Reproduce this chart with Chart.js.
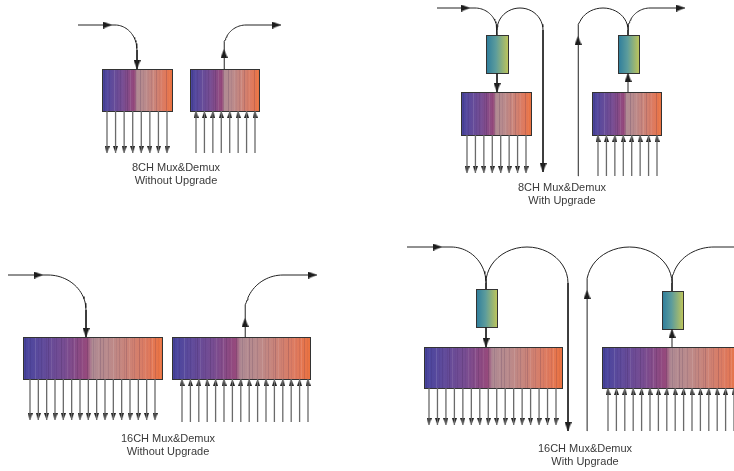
<!DOCTYPE html>
<html><head><meta charset="utf-8">
<script src="https://cdn.jsdelivr.net/npm/chart.js@4"></script>
<style>html,body{margin:0;padding:0;background:#fff;overflow:hidden}#wrap{position:relative;width:734px;height:471px}</style>
</head><body><div id="wrap"><canvas id="c"></canvas></div>
<script>
// ---- data ----
const panelNames = ["8CH Mux&Demux", "8CH Mux&Demux", "16CH Mux&Demux", "16CH Mux&Demux"];
const panelSubtitles = ["Without Upgrade", "With Upgrade", "Without Upgrade", "With Upgrade"];
const channelCounts = [8, 8, 16, 16];
const hasUpgrade = [false, true, false, true];

// ---- layout (diagram geometry in scale units) ----
const layout = [
  { text: [176, 168, 180.5],
    blocks: [[102, 172, 69, 111], [190, 259, 69, 111]],
    filters: [],
    chans: [[107, 167, 111, 153, 'd'], [196, 255, 153, 111, 'u']],
    paths: [
      [['M', 78, 25], ['L', 115, 25], ['A', 115, 50, 22, 25, -90, 0], ['L', 137, 69]],
      [['M', 224, 69], ['L', 224, 47], ['A', 246, 47, 22, 22, 180, 270], ['L', 281, 25]]
    ],
    arrows: [[112, 25, 'r'], [137, 69, 'd'], [224, 49, 'u'], [281, 25, 'r']] },
  { text: [562, 188, 201],
    blocks: [[461, 531, 92, 135], [592, 661, 92, 135]],
    filters: [[486, 508, 35, 73], [618, 639, 35, 73]],
    chans: [[467, 526, 135, 173, 'd'], [598, 657, 176, 135, 'u']],
    paths: [
      [['M', 437, 8], ['L', 475, 8], ['A', 475, 30, 22, 22, -90, 0], ['L', 497, 35]],
      [['M', 497, 30], ['A', 520, 30, 23, 22, 180, 360], ['L', 543, 172]],
      [['M', 497, 73], ['L', 497, 92]],
      [['M', 578, 176], ['L', 578, 30], ['A', 603, 30, 25, 22, 180, 360], ['L', 628, 35]],
      [['M', 628, 92], ['L', 628, 73]],
      [['M', 628, 30], ['A', 650, 30, 22, 22, 180, 270], ['L', 685, 8]]
    ],
    arrows: [[470, 8, 'r'], [543, 172, 'd'], [497, 92, 'd'], [578, 36, 'u'], [628, 73, 'u'], [685, 8, 'r']] },
  { text: [168, 439, 452],
    blocks: [[23, 162, 337, 379], [172, 310, 337, 379]],
    filters: [],
    chans: [[30, 155, 379, 420, 'd'], [182, 308, 422, 379, 'u']],
    paths: [
      [['M', 8, 275], ['L', 48, 275], ['A', 48, 310, 38, 35, -90, 0], ['L', 86, 337]],
      [['M', 245, 337], ['L', 245, 312], ['A', 283, 312, 38, 37, 180, 270], ['L', 317, 275]]
    ],
    arrows: [[43, 275, 'r'], [86, 337, 'd'], [245, 318, 'u'], [317, 275, 'r']] },
  { text: [585, 449, 462],
    blocks: [[424, 562, 347, 388], [602, 740, 347, 388]],
    filters: [[476, 497, 289, 327], [662, 683, 291, 329]],
    chans: [[429, 556, 388, 425, 'd'], [608, 734, 431, 388, 'u']],
    paths: [
      [['M', 407, 247], ['L', 451, 247], ['A', 451, 283, 35, 36, -90, 0], ['L', 486, 289]],
      [['M', 486, 283], ['A', 527, 283, 41, 36, 180, 360], ['L', 568, 431]],
      [['M', 486, 327], ['L', 486, 347]],
      [['M', 587, 431], ['L', 587, 283], ['A', 629.5, 283, 42.5, 36, 180, 360], ['L', 672, 291]],
      [['M', 672, 347], ['L', 672, 329]],
      [['M', 672, 283], ['A', 714, 283, 42, 36, 180, 270], ['L', 745, 247]]
    ],
    arrows: [[442, 247, 'r'], [568, 431, 'd'], [486, 347, 'd'], [587, 290, 'u'], [672, 329, 'u']] }
];

// ---- build datasets ----
function pathPoints(cmds) {
  const pts = [];
  cmds.forEach(c => {
    if (c[0] === 'M' || c[0] === 'L') pts.push({x: c[1], y: c[2]});
    else {
      const [, cx, cy, rx, ry, a0, a1] = c;
      const n = 24;
      for (let i = 0; i <= n; i++) {
        const a = (a0 + (a1 - a0) * i / n) * Math.PI / 180;
        pts.push({x: cx + rx * Math.cos(a), y: cy + ry * Math.sin(a)});
      }
    }
  });
  return pts;
}
const rotOf = {u: 0, r: 90, d: 180, l: 270};
const dirVec = {u: [0, -1], d: [0, 1], r: [1, 0], l: [-1, 0]};
function makeArrow(w, h, color) {
  const cv = document.createElement('canvas');
  cv.width = w; cv.height = h;
  const g = cv.getContext('2d');
  g.fillStyle = color;
  g.beginPath(); g.moveTo(w / 2, 0); g.lineTo(w, h); g.lineTo(0, h); g.closePath(); g.fill();
  return cv;
}
const bigArrow = makeArrow(7, 9, '#1a1a1a');
const smallArrow = makeArrow(5, 7, '#1a1a1a');

const connectorData = [], channelData = [], bigHeads = [], smallHeads = [];
function head(list, tx, ty, dir, len) {
  const v = dirVec[dir];
  list.push({x: tx - v[0] * len / 2, y: ty - v[1] * len / 2, rot: rotOf[dir]});
}
layout.forEach((p, pi) => {
  p.paths.forEach(cmds => { connectorData.push(...pathPoints(cmds)); connectorData.push({x: null, y: null}); });
  p.arrows.forEach(a => head(bigHeads, a[0], a[1], a[2], 9));
  const n = channelCounts[pi];
  p.chans.forEach(ch => {
    const [first, last, from, to, dir] = ch;
    for (let i = 0; i < n; i++) {
      const x = first + (last - first) * i / (n - 1);
      channelData.push({x, y: from}, {x, y: to}, {x: null, y: null});
      head(smallHeads, x, to, dir, 7);
    }
  });
});

// ---- plugin: blocks, filters, labels ----
const bigStops = [[0, '#45449e'], [0.12, '#5c4a9c'], [0.3, '#784d92'], [0.46, '#96497c'], [0.5, '#b08b93'], [0.62, '#ba8a8b'], [0.76, '#cc8377'], [0.9, '#df7a5e'], [1, '#eb7240']];
const stripeAlpha = [0.16, 0.05, 0.11, 0.0, 0.2, 0.07, 0.13, 0.03, 0.09, 0.18];
const diagramPlugin = {
  id: 'diagram',
  beforeDatasetsDraw(chart) {
    const {ctx, scales: {x, y}} = chart;
    ctx.save();
    layout.forEach(p => {
      p.blocks.forEach(b => {
        const X0 = x.getPixelForValue(b[0]), X1 = x.getPixelForValue(b[1]);
        const Y0 = y.getPixelForValue(b[2]), Y1 = y.getPixelForValue(b[3]);
        const g = ctx.createLinearGradient(X0, 0, X1, 0);
        bigStops.forEach(s => g.addColorStop(s[0], s[1]));
        ctx.fillStyle = g;
        ctx.fillRect(X0, Y0, X1 - X0, Y1 - Y0);
        const w = X1 - X0;
        let k = 0;
        for (let sx = X0 + 2; sx < X1 - 1; sx += 2.6, k++) {
          const a = stripeAlpha[k % stripeAlpha.length];
          if (!a) continue;
          ctx.fillStyle = (k % 3 === 1) ? `rgba(255,255,255,${a * 0.6})` : `rgba(40,15,60,${a * 0.85})`;
          ctx.fillRect(Math.round(sx), Y0, 1, Y1 - Y0);
        }
        ctx.strokeStyle = '#333';
        ctx.lineWidth = 1;
        ctx.strokeRect(Math.round(X0) + 0.5, Math.round(Y0) + 0.5, Math.round(w), Math.round(Y1 - Y0));
      });
      p.filters.forEach(b => {
        const X0 = x.getPixelForValue(b[0]), X1 = x.getPixelForValue(b[1]);
        const Y0 = y.getPixelForValue(b[2]), Y1 = y.getPixelForValue(b[3]);
        const g = ctx.createLinearGradient(X0, 0, X1, 0);
        g.addColorStop(0, '#2c7c9c'); g.addColorStop(0.45, '#5c9c9c'); g.addColorStop(1, '#bcc45c');
        ctx.fillStyle = g;
        ctx.fillRect(X0, Y0, X1 - X0, Y1 - Y0);
        ctx.strokeStyle = '#333';
        ctx.strokeRect(Math.round(X0) + 0.5, Math.round(Y0) + 0.5, Math.round(X1 - X0), Math.round(Y1 - Y0));
      });
    });
    ctx.restore();
  },
  afterDraw(chart) {
    const {ctx, scales: {x, y}} = chart;
    ctx.save();
    ctx.fillStyle = '#3a3a3a';
    ctx.font = "11px 'Liberation Sans', Arial, sans-serif";
    ctx.textAlign = 'center';
    ctx.textBaseline = 'middle';
    layout.forEach((p, i) => {
      const cx = x.getPixelForValue(p.text[0]);
      ctx.fillText(panelNames[i], cx, y.getPixelForValue(p.text[1]));
      ctx.fillText(panelSubtitles[i], cx, y.getPixelForValue(p.text[2]));
    });
    ctx.restore();
  }
};

new Chart(document.getElementById('c'), {
  type: 'scatter',
  data: {
    datasets: [
      { label: 'channels', data: channelData, showLine: true, spanGaps: false, borderColor: '#6a6a6a', borderWidth: 1.3, pointRadius: 0, clip: false },
      { label: 'connectors', data: connectorData, showLine: true, spanGaps: false, borderColor: '#222', borderWidth: 1, pointRadius: 0, tension: 0, clip: false },
      { label: 'heads', data: smallHeads, pointStyle: smallArrow, pointRadius: 3, rotation: c => c.raw ? c.raw.rot : 0, clip: false },
      { label: 'bigheads', data: bigHeads, pointStyle: bigArrow, pointRadius: 4, rotation: c => c.raw ? c.raw.rot : 0, clip: false }
    ]
  },
  options: {
    responsive: true, maintainAspectRatio: false, animation: false, events: [],
    layout: {padding: 0, autoPadding: false},
    plugins: {legend: {display: false}, tooltip: {enabled: false}},
    scales: {
      x: {type: 'linear', min: 0, max: 734, display: false},
      y: {type: 'linear', min: 0, max: 471, reverse: true, display: false}
    }
  },
  plugins: [diagramPlugin]
});
</script></body></html>
